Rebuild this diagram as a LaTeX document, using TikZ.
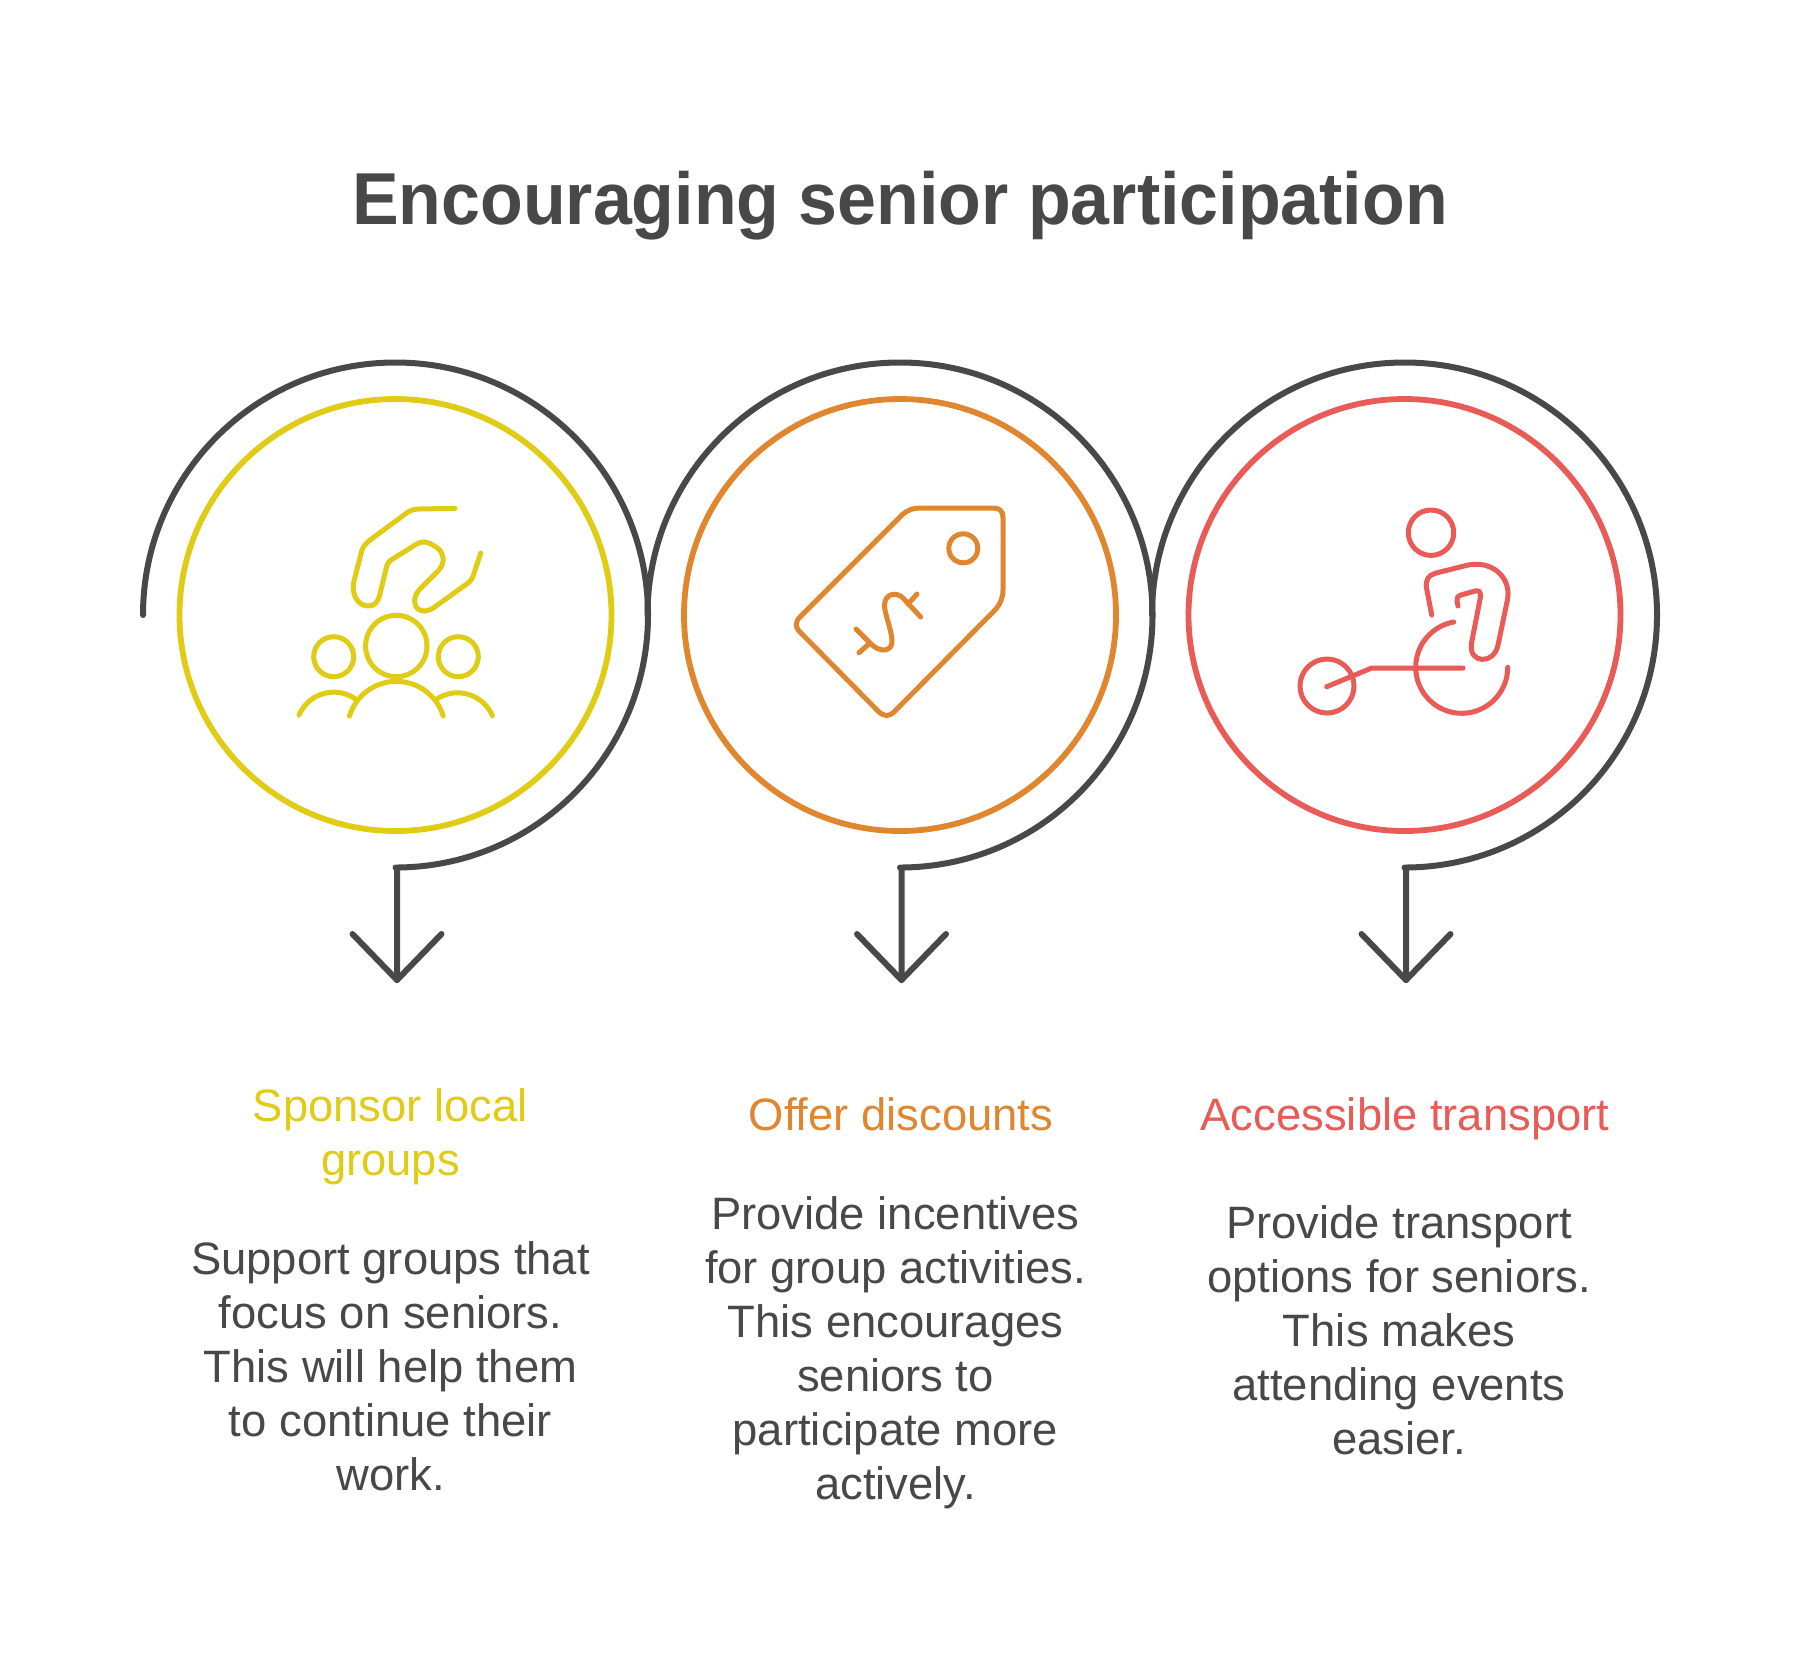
\documentclass[tikz,border=0pt]{standalone}
\usepackage{fontspec}
\setmainfont{Liberation Sans}
\newfontfamily\titlefont[FakeStretch=0.95]{Liberation Sans}
\definecolor{dk}{HTML}{484848}
\definecolor{yel}{HTML}{E0CB15}
\definecolor{org}{HTML}{E0862F}
\definecolor{rdd}{HTML}{E85B57}
\tikzset{
 spiral/.style={draw=dk,line width=3pt,line cap=round,line join=round},
 ring/.style={line width=2.9pt},
 icon/.style={line width=2.5pt,line cap=round,line join=round},
 headtext/.style={align=center,inner sep=0pt,font=\fontsize{22.7}{27}\selectfont},
 bodytext/.style={align=center,inner sep=0pt,text=dk,font=\fontsize{22.7}{27}\selectfont}
}
\begin{document}
\begin{tikzpicture}[x=0.5pt,y=0.5pt,yscale=-1]
\useasboundingbox[fill=white] (0,0) rectangle (1797,1656);
\node[inner sep=0pt,anchor=base,text=dk,font=\fontsize{36.8}{44}\titlefont\bfseries] (title) at (900,224) {Encouraging senior participation};
% spirals
\foreach \n/\c in {a/395.5,b/900,c/1404.5}{
 \coordinate (tip\n) at (\c+1.5,980);
 \draw[spiral] (\c-252.5,615) arc[start angle=180,end angle=450,radius=252.5] -- (\c+1.5,867.5) -- (tip\n);
 \draw[spiral] (\c-43,934) -- (tip\n) -- (\c+46,934);
}
\draw[ring,draw=yel] (395.5,615) circle[radius=216];
\draw[ring,draw=org] (900,615) circle[radius=216];
\draw[ring,draw=rdd] (1404.5,615) circle[radius=216];
% group icon
\begin{scope}[icon,draw=yel]
\draw (455,508.3) -- (420,509) .. controls (414,509) and (411,510) .. (408,512) -- (370,540)
 .. controls (365,544) and (363,547) .. (361.7,551) -- (354,581)
 .. controls (351,595) and (358,606) .. (368.5,606) .. controls (374,606) and (378,602) .. (379.5,596) -- (386.5,567)
 .. controls (387.5,563) and (389,561.5) .. (391,560) -- (415,545)
 .. controls (420,541.5) and (425,541) .. (430,543.5) -- (436,547)
 .. controls (444,552) and (446,563) .. (438,571) -- (420,589)
 .. controls (411,598) and (414,611) .. (424,611) .. controls (427,611) and (431,609.5) .. (434,607.5) -- (468,583)
 .. controls (471,581) and (472,579) .. (473,576.5) -- (480.7,553);
\draw (396.3,646) circle[radius=30.7];
\draw (333.7,656.7) circle[radius=20];
\draw (458.3,656.7) circle[radius=20];
\draw (349.5,716) arc[start angle=197,end angle=343,radius=49];
\draw (299,715) arc[start angle=203.4,end angle=306,radius=37.9];
\draw (435.3,700) arc[start angle=234,end angle=336.6,radius=37.9];
\end{scope}
% tag icon
\begin{scope}[icon,draw=org]
\draw (920,508) -- (993,508) .. controls (1000,508) and (1003,511) .. (1003,518) -- (1003,590)
 .. controls (1003,598) and (1000,605) .. (994,611) -- (895,711)
 .. controls (889,717) and (884,717) .. (878,711) -- (800,632)
 .. controls (795,627) and (795,622) .. (800,617) -- (903,514)
 .. controls (908,510) and (913,508) .. (920,508) -- cycle;
\draw (963.3,548.3) circle[radius=14.5];
\draw (856,629) -- (871,644) .. controls (880,653) and (893,652) .. (892,640)
 .. controls (891,628) and (885,615) .. (884.5,606) .. controls (884,594) and (896,591) .. (903,598) -- (920.7,617);
\draw (859,652.7) -- (870,643);
\draw (917,594) -- (908,604);
\end{scope}
% wheelchair icon
\begin{scope}[icon,draw=rdd]
\draw (1431,532.7) circle[radius=22.7];
\draw (1431.7,615) -- (1426.5,588) .. controls (1425,580) and (1429,575) .. (1435,573.3) -- (1466,565.5)
 .. controls (1492,559) and (1513,578) .. (1507,602) -- (1498,645)
 .. controls (1494,665) and (1468,664) .. (1471.5,643) -- (1480.5,597)
 .. controls (1481,592) and (1479,590) .. (1475,591) -- (1461,595)
 .. controls (1457.5,596) and (1456.5,598) .. (1457,601) -- (1458,606);
\draw (1507.7,667.3) arc[start angle=0,end angle=260,radius=46];
\draw (1463,668) -- (1371.7,668) -- (1326.7,686.7);
\draw (1327,686) circle[radius=27];
\end{scope}
% texts
\node[headtext,text=yel] (h1) at (390.5,1137) {Sponsor local\\groups};
\node[headtext,text=org] (h2) at (901,1114) {Offer discounts};
\node[headtext,text=rdd] (h3) at (1405,1118.5) {Accessible transport};
\node[bodytext] (b1) at (390.5,1366) {Support groups that\\focus on seniors.\\This will help them\\to continue their\\work.};
\node[bodytext] (b2) at (895.5,1353) {Provide incentives\\for group activities.\\This encourages\\seniors to\\participate more\\actively.};
\node[bodytext] (b3) at (1399,1330) {Provide transport\\options for seniors.\\This makes\\attending events\\easier.};
\end{tikzpicture}
\end{document}
